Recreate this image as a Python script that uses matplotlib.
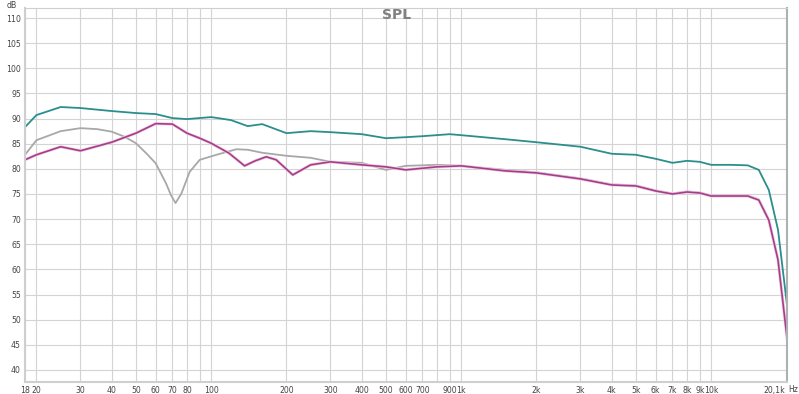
import matplotlib
matplotlib.use('Agg')
import matplotlib.pyplot as plt
import matplotlib.transforms as mtrans

#data
freq_teal = [18, 20, 25, 30, 40, 50, 60, 70, 80, 100, 120, 140, 160, 200, 250, 300, 400, 500, 600, 700, 900, 1000,
             1500, 2000, 3000, 4000, 5000, 6000, 7000, 8000, 9000, 10000, 12000, 14000, 15500, 17000, 18500, 20100]
spl_teal = [88.3, 90.7, 92.3, 92.1, 91.5, 91.1, 90.9, 90.1, 89.9, 90.3, 89.7, 88.5, 88.9, 87.1, 87.5, 87.3, 86.9, 86.1, 86.3, 86.5, 86.9, 86.7,
            85.9, 85.3, 84.4, 83.0, 82.8, 82.0, 81.2, 81.6, 81.4, 80.8, 80.8, 80.7, 79.8, 75.8, 67.9, 52.9]

freq_mag = [18, 20, 25, 30, 40, 50, 60, 70, 80, 90, 100, 118, 136, 150, 166, 182, 212, 250, 300, 400, 500, 600, 800, 1000,
            1500, 2000, 3000, 4000, 5000, 6000, 7000, 8000, 9000, 10000, 12000, 14000, 15500, 17000, 18500, 20100]
spl_mag = [81.8, 82.8, 84.4, 83.6, 85.3, 87.1, 89.0, 88.9, 87.1, 86.1, 85.1, 83.1, 80.6, 81.6, 82.4, 81.8, 78.8, 80.8, 81.4, 80.8, 80.4, 79.8, 80.4, 80.6,
           79.6, 79.2, 78.0, 76.8, 76.6, 75.6, 75.0, 75.4, 75.2, 74.6, 74.6, 74.6, 73.8, 69.8, 61.9, 46.4]

freq_gray = [18, 20, 25, 30, 35, 40, 45, 50, 55, 60, 66, 69, 72, 76, 82, 90, 105, 126, 140, 160, 200, 250, 300, 400, 500, 600, 800, 1000,
             1500, 2000, 3000, 4000, 5000, 6000, 7000, 8000, 9000, 10000, 12000, 14000, 15500, 17000, 18500, 20100]
spl_gray = [82.8, 85.7, 87.5, 88.1, 87.9, 87.4, 86.4, 85.1, 83.1, 81.1, 77.1, 74.8, 73.2, 75.1, 79.4, 81.8, 82.8, 83.9, 83.8, 83.2, 82.6, 82.2, 81.4, 81.2, 79.8, 80.6, 80.8, 80.6,
            79.8, 79.3, 78.1, 76.9, 76.7, 75.7, 75.1, 75.5, 75.3, 74.7, 74.7, 74.7, 73.9, 69.9, 62.0, 46.5]

x_ticks = [18, 20, 30, 40, 50, 60, 70, 80, 90, 100, 200, 300, 400, 500, 600, 700, 800, 900, 1000,
           2000, 3000, 4000, 5000, 6000, 7000, 8000, 9000, 10000, 20100]
x_labels = ['18', '20', '30', '40', '50', '60', '70', '80', '', '100', '200', '300', '400', '500', '600', '700', '', '900', '1k',
            '2k', '3k', '4k', '5k', '6k', '7k', '8k', '9k', '10k', '20,1k']
y_ticks = list(range(40, 115, 5))

fig = plt.figure(figsize=(7.99, 3.94), dpi=100)
ax = fig.add_axes([25/799, 12/394, 762/799, 374/394])

ax.plot(freq_gray, spl_gray, color='#a8a8a8', lw=1.3)
ax.plot(freq_teal, spl_teal, color='#2a8f8c', lw=1.3)
ax.plot(freq_mag, spl_mag, color='#ecd0e4', lw=2.2)
ax.plot(freq_mag, spl_mag, color='#a83c8a', lw=1.2)

ax.set_xscale('log')
ax.set_xlim(18, 20100)
ax.set_ylim(37.6, 112)
ax.set_xticks(x_ticks)
ax.set_xticklabels(x_labels)
ax.minorticks_off()
ax.set_yticks(y_ticks)
ax.grid(True, color='#d4d4d4', lw=0.8)
ax.tick_params(length=0, labelsize=5.6, labelcolor='#444444', pad=3)
for s in ['top', 'left', 'bottom']:
    ax.spines[s].set_color('#cfcfcf')
ax.spines['left'].set_linewidth(1.5)
ax.spines['bottom'].set_linewidth(1.5)
ax.spines['right'].set_color('#b0b0b0')
ax.spines['right'].set_linewidth(1.5)

#shift the last label left so "Hz" fits after it
last = ax.get_xticklabels()[-1]
last.set_transform(last.get_transform() + mtrans.ScaledTranslation(-13/100, 0, fig.dpi_scale_trans))

fig.text(397/799, 1 - 15/394, 'SPL', ha='center', va='center', fontsize=10, fontweight='bold', color='#808080')
fig.text(12/799, 1 - 5/394, 'dB', ha='center', va='center', fontsize=5.6, color='#444444')
fig.text(798/799, 1 - 390/394, 'Hz', ha='right', va='center', fontsize=5.6, color='#444444')

fig.savefig('out.png', dpi=100)
